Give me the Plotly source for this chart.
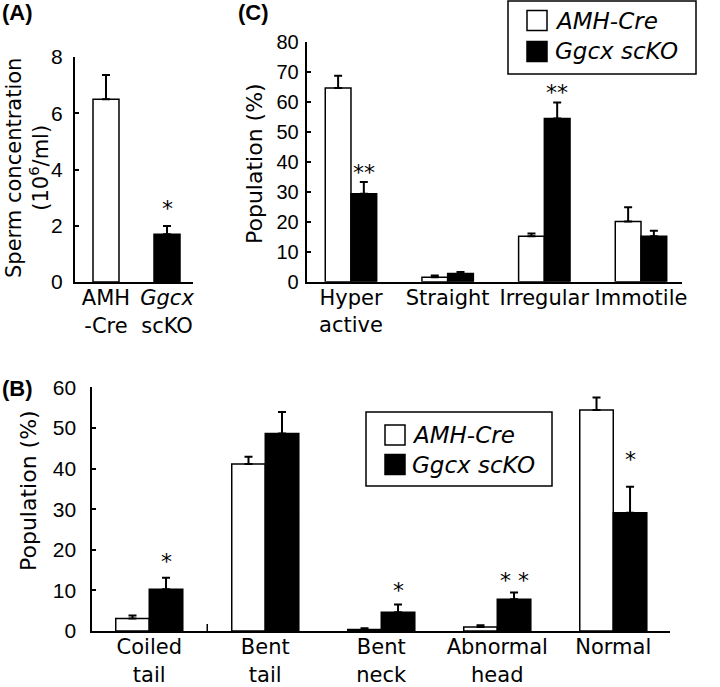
import plotly.graph_objects as go

# ---------------- data ----------------
# Panel A: sperm concentration (10^6/ml)
a_labels = ["AMH<br>-Cre", "<i>Ggcx</i><br>scKO"]
a_values = [6.5, 1.7]
a_errors = [0.86, 0.29]
a_sig = ["", "*"]

# Panel C: motility population (%)
c_labels = ["Hyper<br>active", "Straight", "Irregular", "Immotile"]
c_ctrl = [64.7, 1.5, 15.2, 20.1]
c_ctrl_err = [4.1, 0.6, 0.9, 4.8]
c_ko = [29.4, 2.7, 54.5, 15.2]
c_ko_err = [3.9, 0.5, 5.4, 1.8]
c_sig = ["**", "", "**", ""]

# Panel B: morphology population (%)
b_labels = ["Coiled<br>tail", "Bent<br>tail", "Bent<br>neck", "Abnormal<br>head", "Normal"]
b_ctrl = [3.1, 41.1, 0.4, 1.0, 54.4]
b_ctrl_err = [0.7, 1.8, 0.3, 0.4, 3.1]
b_ko = [10.3, 48.6, 4.6, 7.8, 29.1]
b_ko_err = [2.8, 5.3, 1.9, 1.7, 6.4]
b_sig = ["*", "", "*", "* *", "*"]

series_names = ["AMH-Cre", "Ggcx scKO"]

# ---------------- helpers ----------------
W, H = 720, 687
def X(px):
    return px / W
def Y(py):
    return 1 - py / H

FONT = "Arial, Liberation Sans, sans-serif"
WIDE = "DejaVu Sans, Arial, sans-serif"
LINE = dict(color="black", width=1.5)
ERR = dict(color="black", thickness=2, width=4)

fig = go.Figure()

# Panel A
wa = 0.426
fig.add_trace(go.Bar(
    x=list(range(len(a_values))), y=a_values, width=wa,
    marker=dict(color=["white", "black"], line=LINE),
    error_y=dict(type="data", symmetric=False, array=a_errors,
                 arrayminus=[0] * len(a_errors), **ERR),
    xaxis="x", yaxis="y", showlegend=False))

# Panel C
wc = 0.266
fig.add_trace(go.Bar(
    x=list(range(len(c_ctrl))), y=c_ctrl, width=wc, offset=-wc,
    marker=dict(color="white", line=LINE), name=series_names[0],
    error_y=dict(type="data", symmetric=False, array=c_ctrl_err,
                 arrayminus=[0] * len(c_ctrl_err), **ERR),
    xaxis="x2", yaxis="y2", showlegend=False))
fig.add_trace(go.Bar(
    x=list(range(len(c_ko))), y=c_ko, width=wc, offset=0,
    marker=dict(color="black", line=LINE), name=series_names[1],
    error_y=dict(type="data", symmetric=False, array=c_ko_err,
                 arrayminus=[0] * len(c_ko_err), **ERR),
    xaxis="x2", yaxis="y2", showlegend=False))

# Panel B
wb = 0.289
fig.add_trace(go.Bar(
    x=list(range(len(b_ctrl))), y=b_ctrl, width=wb, offset=-wb,
    marker=dict(color="white", line=LINE), name=series_names[0],
    error_y=dict(type="data", symmetric=False, array=b_ctrl_err,
                 arrayminus=[0] * len(b_ctrl_err), **ERR),
    xaxis="x3", yaxis="y3", showlegend=False))
fig.add_trace(go.Bar(
    x=list(range(len(b_ko))), y=b_ko, width=wb, offset=0,
    marker=dict(color="black", line=LINE), name=series_names[1],
    error_y=dict(type="data", symmetric=False, array=b_ko_err,
                 arrayminus=[0] * len(b_ko_err), **ERR),
    xaxis="x3", yaxis="y3", showlegend=False))

yax_common = dict(showline=True, linewidth=2, linecolor="black", ticks="inside",
                  ticklen=4, tickwidth=2, tickcolor="black", showgrid=False,
                  zeroline=False, fixedrange=True, automargin=False)
xax_common = dict(showline=True, linewidth=2, linecolor="black", ticks="",
                  showgrid=False, zeroline=False, tickmode="array", tickangle=0,
                  automargin=False, fixedrange=True, ticklabelstandoff=-4)
xfont = dict(size=21, family=WIDE)

fig.update_layout(
    width=W, height=H, margin=dict(l=0, r=0, t=0, b=0, pad=0, autoexpand=False),
    paper_bgcolor="white", plot_bgcolor="white",
    font=dict(family=FONT, color="black", size=22),
    barmode="overlay",
    xaxis=dict(domain=[X(75), X(193)], range=[-0.508, 1.426],
               tickvals=list(range(len(a_labels))), ticktext=a_labels,
               tickfont=xfont, anchor="y", **xax_common),
    yaxis=dict(domain=[Y(282), Y(57)], range=[0, 8], tickvals=[0, 2, 4, 6, 8],
               tickfont=dict(size=21), ticklabelstandoff=6, anchor="x", **yax_common),
    xaxis2=dict(domain=[X(306.7), X(681.7)], range=[-0.458, 3.421],
                tickvals=list(range(len(c_labels))), ticktext=c_labels,
                tickfont=xfont, anchor="y2", **xax_common),
    yaxis2=dict(domain=[Y(281.7), Y(42.3)], range=[0, 80],
                tickvals=list(range(0, 81, 10)), tickfont=dict(size=20),
                ticklabelstandoff=2, anchor="x2", **yax_common),
    xaxis3=dict(domain=[X(92.3), X(670)], range=[-0.491, 4.489],
                tickvals=list(range(len(b_labels))), ticktext=b_labels,
                tickfont=xfont, anchor="y3", **xax_common),
    yaxis3=dict(domain=[Y(631), Y(387.3)], range=[0, 60],
                tickvals=list(range(0, 61, 10)), tickfont=dict(size=21),
                ticklabelstandoff=10, anchor="x3", **yax_common),
)

ann = []
star_font = dict(size=22, family=WIDE)
# significance stars
for i, s in enumerate(a_sig):
    if s:
        ann.append(dict(x=i, y=a_values[i] + a_errors[i], xref="x", yref="y",
                        text=s, showarrow=False, yanchor="middle", yshift=18,
                        font=star_font))
for i, s in enumerate(c_sig):
    if s:
        ann.append(dict(x=i + wc / 2, y=c_ko[i] + c_ko_err[i], xref="x2", yref="y2",
                        text=s, showarrow=False, yanchor="middle", yshift=10,
                        font=star_font))
b_shift = [16, 0, 14, 12, 27]
for i, s in enumerate(b_sig):
    if s:
        ann.append(dict(x=i + wb / 2, y=b_ko[i] + b_ko_err[i], xref="x3", yref="y3",
                        text=s, showarrow=False, yanchor="middle", yshift=b_shift[i],
                        font=star_font))

# y-axis titles
ann.append(dict(x=X(27), y=Y(168), xref="paper", yref="paper",
                text="Sperm concentration<br>(10<sup>6</sup>/ml)", textangle=-90,
                showarrow=False, font=dict(size=21, family=WIDE),
                xanchor="center", yanchor="middle"))
ann.append(dict(x=X(255), y=Y(164), xref="paper", yref="paper",
                text="Population (%)", textangle=-90,
                showarrow=False, font=dict(size=22, family=WIDE),
                xanchor="center", yanchor="middle"))
ann.append(dict(x=X(28), y=Y(491), xref="paper", yref="paper",
                text="Population (%)", textangle=-90,
                showarrow=False, font=dict(size=22, family=WIDE),
                xanchor="center", yanchor="middle"))

# panel labels
for lab, px, py in [("(A)", 0, 13), ("(C)", 236, 13), ("(B)", 0, 389)]:
    ann.append(dict(x=X(px), y=Y(py), xref="paper", yref="paper", text=f"<b>{lab}</b>",
                    showarrow=False, xanchor="left", yanchor="middle", font=dict(size=22)))

shapes = []
# legends
def add_legend(x0, y0, x1, y1, sq_x, sq_ys, sq, txt_x, fs):
    shapes.append(dict(type="rect", xref="paper", yref="paper",
                       x0=X(x0), x1=X(x1), y0=Y(y1), y1=Y(y0),
                       line=dict(color="black", width=1.5), fillcolor="white"))
    for (sy, col, name) in zip(sq_ys, ["white", "black"], series_names):
        shapes.append(dict(type="rect", xref="paper", yref="paper",
                           x0=X(sq_x), x1=X(sq_x + sq), y0=Y(sy + sq), y1=Y(sy),
                           line=dict(color="black", width=1.5), fillcolor=col))
        ann.append(dict(x=X(txt_x), y=Y(sy + sq / 2), xref="paper", yref="paper",
                        text=f"<i>{name}</i>", showarrow=False, xanchor="left",
                        yanchor="middle", font=dict(size=fs, family=WIDE)))

add_legend(508, 1, 696, 74, 527, [10.5, 41.5], 20, 553, 23)
add_legend(366, 412, 552, 486, 385, [425, 454.5], 20, 410, 23)

# single divider tick on panel B x-axis
shapes.append(dict(type="line", xref="x3", yref="y3", x0=0.5, x1=0.5, y0=0, y1=1.7,
                   line=dict(color="black", width=1.5)))

fig.update_layout(annotations=ann, shapes=shapes)
fig.write_html("out.html", config={"displayModeBar": False},
               post_script="document.body.style.margin='0';")
